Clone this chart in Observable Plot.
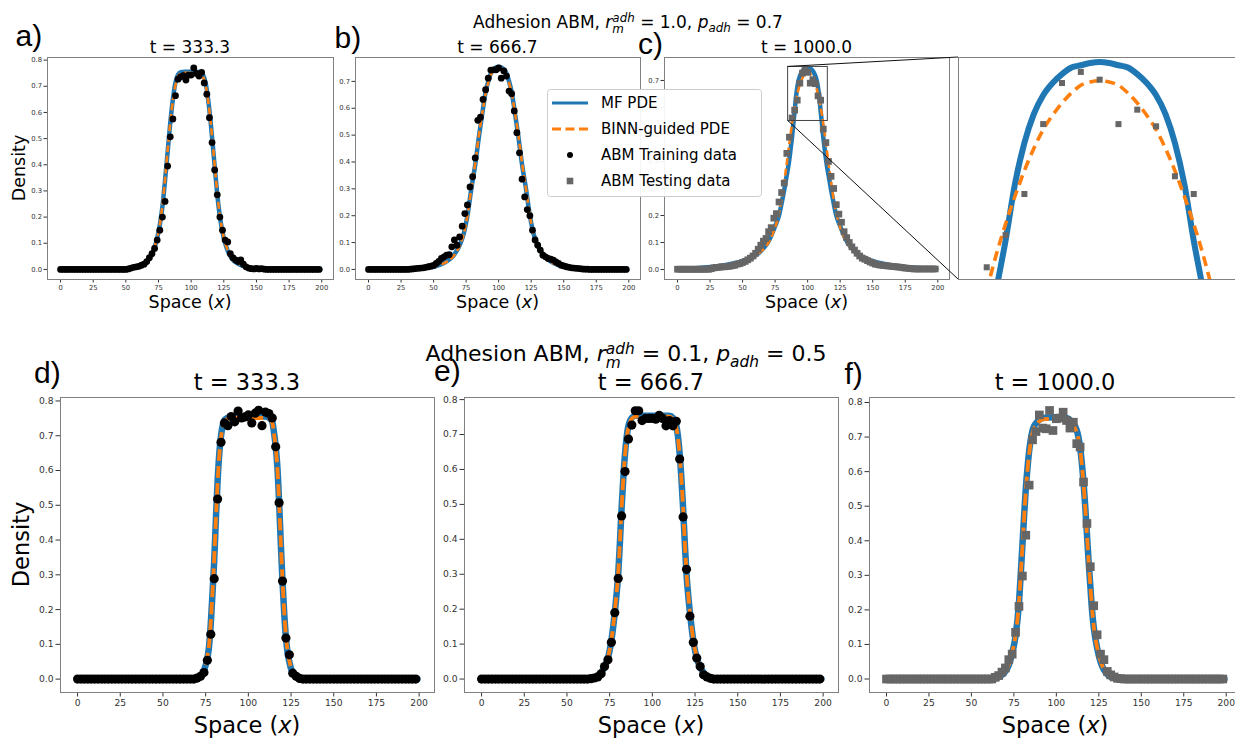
<!DOCTYPE html>
<html><head><meta charset="utf-8">
<script src="https://cdn.jsdelivr.net/npm/d3@7"></script>
<script src="https://cdn.jsdelivr.net/npm/@observablehq/plot@0.6"></script>
<style>
html,body{margin:0;padding:0;background:#fff;}
#fig{position:relative;width:1235px;height:740px;overflow:hidden;background:#fff;font-family:"DejaVu Sans";}
.lbl{position:absolute;white-space:nowrap;line-height:1;color:#000;font-family:"DejaVu Sans";transform:translateX(-50%);}
.ss{display:inline-flex;flex-direction:column;font-size:0.7em;font-style:italic;line-height:0.93;position:relative;top:-0.5em;}
.sb{font-size:0.7em;font-style:italic;position:relative;top:0.36em;}
</style></head>
<body><div id="fig"></div>
<script>
// ---------------- DATA ----------------
const xGrid = [0,2,4,6,8,10,12,14,16,18,20,22,24,26,28,30,32,34,36,38,40,42,44,46,48,50,52,54,56,58,60,62,64,66,68,70,72,74,76,78,80,82,84,86,88,90,92,94,96,98,100,102,104,106,108,110,112,114,116,118,120,122,124,126,128,130,132,134,136,138,140,142,144,146,148,150,152,154,156,158,160,162,164,166,168,170,172,174,176,178,180,182,184,186,188,190,192,194,196,198];

const xTicks = [0,25,50,75,100,125,150,175,200];
const yTicks8 = [0,0.1,0.2,0.3,0.4,0.5,0.6,0.7,0.8];
const yTicks7 = [0,0.1,0.2,0.3,0.4,0.5,0.6,0.7];
const timeLabels = ["t = 333.3","t = 666.7","t = 1000.0"];
const panelLetters = ["a)","b)","c)","d)","e)","f)"];
const legendLabels = ["MF PDE","BINN-guided PDE","ABM Training data","ABM Testing data"];
const titleParams = [["1.0","0.7"],["0.1","0.5"]];
const insetX = [85,115.5];
const insetY = [0.55,0.75];

// ABM data (top row: r=1.0, p=0.7)
const trainA = [0,0,0,0,0,0,0,0,0,0, 0,0,0,0,0,0,0,0,0,0,
 0,0,0,0,0,0,0.002,0.005,0.008,0.01,
 0.012,0.016,0.02,0.03,0.045,0.06,0.08,0.112,0.15,0.2,
 0.26,0.395,0.507,0.575,0.664,0.727,0.736,0.741,0.724,0.743,
 0.743,0.77,0.749,0.739,0.753,0.713,0.67,0.58,0.485,0.38,
 0.285,0.2,0.15,0.112,0.105,0.06,0.045,0.036,0.03,0.036,
 0.02,0.01,0.005,0.003,0.002,0.004,0.002,0.003,0.001,0,
 0,0,0,0,0,0,0,0,0,0, 0,0,0,0,0,0,0,0,0,0];
const trainB = [0,0,0,0,0,0,0,0,0,0,
 0,0,0,0,0,0,0.001,0.002,0.003,0.004,
 0.005,0.006,0.008,0.01,0.012,0.015,0.022,0.03,0.041,0.047,
 0.053,0.055,0.084,0.11,0.09,0.121,0.161,0.208,0.24,0.307,
 0.345,0.415,0.555,0.567,0.633,0.669,0.712,0.742,0.743,0.743,
 0.75,0.712,0.739,0.72,0.664,0.654,0.59,0.509,0.434,0.336,
 0.27,0.223,0.2,0.146,0.11,0.09,0.072,0.053,0.047,0.041,
 0.038,0.035,0.028,0.022,0.016,0.013,0.01,0.008,0.006,0.005,
 0.004,0.003,0.002,0.001,0.001,0,0,0,0,0,
 0,0,0,0,0,0,0,0,0,0];
const testC = [0.001,0.001,0.001,0.001,0.001,0.001,0.001,0.001,0.001,0.001,
 0.001,0.001,0.001,0.003,0.006,0.008,0.008,0.01,0.01,0.011,
 0.012,0.014,0.016,0.02,0.022,0.026,0.03,0.036,0.042,0.05,
 0.06,0.075,0.09,0.105,0.115,0.14,0.155,0.19,0.207,0.25,
 0.285,0.32,0.43,0.49,0.561,0.59,0.627,0.69,0.727,0.737,
 0.73,0.69,0.703,0.688,0.643,0.627,0.52,0.47,0.4,0.345,
 0.3,0.24,0.205,0.175,0.14,0.118,0.1,0.084,0.072,0.06,
 0.05,0.042,0.038,0.033,0.028,0.024,0.02,0.018,0.016,0.015,
 0.014,0.013,0.012,0.011,0.01,0.009,0.008,0.006,0.005,0.004,
 0.003,0.002,0.002,0.002,0.002,0.002,0.002,0.002,0.002,0.002];

// ABM data (bottom row: r=0.1, p=0.5)
const trainD = [0,0,0,0,0,0,0,0,0,0, 0,0,0,0,0,0,0,0,0,0, 0,0,0,0,0,0,0,0,0,0,
 0,0,0,0,0,0.003,0.008,0.019,0.054,0.129,
 0.289,0.518,0.681,0.737,0.729,0.755,0.74,0.771,0.751,0.754,
 0.76,0.737,0.765,0.773,0.729,0.768,0.764,0.751,0.668,0.507,
 0.282,0.118,0.07,0.017,0.008,0.002,0,0,0,0,
 0,0,0,0,0,0,0,0,0,0, 0,0,0,0,0,0,0,0,0,0, 0,0,0,0,0,0,0,0,0,0];
const trainE = [0,0,0,0,0,0,0,0,0,0, 0,0,0,0,0,0,0,0,0,0, 0,0,0,0,0,0,0,0,0,0,
 0,0,0.001,0.003,0.006,0.015,0.036,0.055,0.105,0.19,
 0.288,0.467,0.594,0.687,0.727,0.768,0.768,0.74,0.746,0.746,
 0.746,0.744,0.755,0.746,0.725,0.74,0.725,0.738,0.63,0.464,
 0.314,0.18,0.105,0.06,0.036,0.012,0.006,0.002,0,0,
 0,0,0,0,0,0,0,0,0,0, 0,0,0,0,0,0,0,0,0,0, 0,0,0,0,0,0,0,0,0,0];
const testF = [0,0,0,0,0,0,0,0,0,0, 0,0,0,0,0,0,0,0,0,0, 0,0,0,0,0,0,0,0,0,0,
 0,0,0.005,0.01,0.02,0.032,0.056,0.072,0.135,0.21,
 0.298,0.416,0.561,0.692,0.716,0.764,0.726,0.724,0.777,0.719,
 0.753,0.755,0.772,0.748,0.726,0.743,0.681,0.671,0.57,0.45,
 0.325,0.212,0.128,0.072,0.056,0.022,0.012,0.006,0.002,0.001,
 0,0,0,0,0,0,0,0,0,0, 0,0,0,0,0,0,0,0,0,0, 0,0,0,0,0,0,0,0,0,0];

// PDE curves [x, density]
const mfA = [[0,0],[40,0.001],[50,0.004],[55,0.008],[60,0.014],[65,0.028],[68,0.043],[70,0.06],[72,0.085],[74,0.12],[76,0.17],[78,0.24],[80,0.34],[82,0.45],[84,0.56],[86,0.65],[88,0.715],[90,0.745],[92,0.754],[95,0.756],[104,0.756],[107,0.754],[109,0.745],[111,0.715],[113,0.65],[115,0.56],[117,0.45],[119,0.34],[121,0.24],[123,0.17],[125,0.12],[127,0.085],[129,0.06],[131,0.043],[134,0.028],[139,0.014],[144,0.008],[149,0.004],[159,0.001],[199,0]];
const binnA = [[0,0],[40,0.001],[50,0.004],[55,0.009],[60,0.016],[65,0.03],[68,0.045],[70,0.062],[72,0.087],[74,0.122],[76,0.172],[78,0.245],[80,0.345],[82,0.455],[84,0.56],[86,0.645],[88,0.705],[90,0.738],[92,0.749],[95,0.752],[104,0.752],[107,0.749],[109,0.738],[111,0.705],[113,0.645],[115,0.56],[117,0.455],[119,0.345],[121,0.245],[123,0.172],[125,0.122],[127,0.087],[129,0.062],[131,0.045],[134,0.03],[139,0.016],[144,0.009],[149,0.004],[159,0.001],[199,0]];
const mfB = [[0,0],[30,0.001],[40,0.004],[50,0.01],[55,0.018],[60,0.03],[65,0.05],[70,0.09],[73,0.13],[76,0.2],[79,0.3],[82,0.39],[85,0.5],[88,0.6],[90,0.66],[92,0.7],[94,0.73],[96,0.745],[100,0.755],[104,0.745],[106,0.73],[108,0.7],[110,0.66],[112,0.6],[115,0.5],[118,0.39],[121,0.3],[124,0.2],[127,0.13],[130,0.09],[135,0.05],[140,0.03],[145,0.018],[150,0.01],[160,0.004],[170,0.001],[199,0]];
const binnB = [[0,0],[30,0.001],[40,0.004],[50,0.01],[55,0.017],[60,0.028],[65,0.048],[70,0.088],[73,0.13],[76,0.2],[79,0.3],[82,0.395],[85,0.505],[88,0.6],[90,0.655],[92,0.695],[94,0.725],[96,0.742],[100,0.752],[104,0.742],[106,0.725],[108,0.695],[110,0.655],[112,0.6],[115,0.505],[118,0.395],[121,0.3],[124,0.2],[127,0.13],[130,0.088],[135,0.048],[140,0.028],[145,0.017],[150,0.01],[160,0.004],[170,0.001],[199,0]];
const mfC = [[0,0.002],[10,0.004],[20,0.007],[30,0.012],[40,0.02],[50,0.031],[55,0.04],[60,0.052],[64,0.068],[68,0.09],[70,0.105],[72,0.125],[75,0.16],[78,0.2],[80,0.245],[82,0.295],[84,0.35],[86,0.41],[87,0.45],[88,0.49],[89,0.54],[90,0.585],[91,0.636],[92,0.673],[93,0.699],[94,0.716],[95,0.727],[96,0.735],[97,0.741],[98,0.743],[99,0.745],[100,0.746],[101,0.745],[102,0.743],[103,0.741],[104,0.735],[105,0.727],[106,0.716],[107,0.699],[108,0.673],[109,0.636],[110,0.585],[111,0.54],[112,0.49],[113,0.45],[114,0.41],[116,0.35],[118,0.295],[120,0.245],[122,0.2],[125,0.16],[128,0.125],[130,0.105],[132,0.09],[136,0.068],[140,0.052],[145,0.04],[150,0.031],[160,0.02],[170,0.012],[180,0.007],[190,0.004],[199,0.002]];
const binnC = [[0,0.002],[10,0.004],[20,0.007],[30,0.012],[40,0.019],[50,0.03],[55,0.038],[60,0.05],[64,0.066],[68,0.087],[70,0.1],[72,0.12],[75,0.155],[78,0.21],[80,0.26],[82,0.325],[84,0.395],[86,0.47],[87,0.505],[88,0.54],[89,0.572],[90,0.6],[91,0.625],[92,0.648],[93,0.668],[94,0.685],[95,0.698],[96,0.709],[97,0.718],[98,0.725],[99,0.728],[100,0.729],[101,0.728],[102,0.725],[103,0.718],[104,0.709],[105,0.698],[106,0.685],[107,0.668],[108,0.648],[109,0.625],[110,0.6],[111,0.572],[112,0.54],[113,0.505],[114,0.47],[116,0.395],[118,0.325],[120,0.26],[122,0.21],[125,0.155],[128,0.12],[130,0.1],[132,0.087],[136,0.066],[140,0.05],[145,0.038],[150,0.03],[160,0.019],[170,0.012],[180,0.007],[190,0.004],[199,0.002]];
const mfD = [[0,0],[60,0],[66,0.001],[70,0.003],[72,0.008],[73,0.015],[74,0.025],[75,0.04],[76,0.06],[77,0.095],[78,0.16],[79,0.245],[80,0.34],[81,0.46],[82,0.57],[83,0.65],[84,0.7],[85,0.73],[86,0.745],[88,0.752],[90,0.755],[110,0.755],[112,0.752],[114,0.74],[115,0.71],[116,0.67],[117,0.61],[118,0.51],[119,0.39],[120,0.28],[121,0.19],[122,0.12],[123,0.075],[124,0.05],[125,0.03],[126,0.018],[128,0.007],[130,0.003],[134,0.001],[140,0],[199,0]];
const binnD = [[0,0],[60,0],[66,0.001],[70,0.004],[72,0.009],[73,0.016],[74,0.027],[75,0.043],[76,0.066],[77,0.1],[78,0.165],[79,0.25],[80,0.345],[81,0.46],[82,0.565],[83,0.645],[84,0.695],[85,0.725],[86,0.74],[88,0.749],[90,0.751],[110,0.751],[112,0.749],[114,0.737],[115,0.707],[116,0.667],[117,0.607],[118,0.51],[119,0.395],[120,0.285],[121,0.195],[122,0.125],[123,0.08],[124,0.053],[125,0.033],[126,0.02],[128,0.008],[130,0.003],[134,0.001],[140,0],[199,0]];
const mfE = [[0,0],[60,0],[64,0.002],[66,0.004],[68,0.008],[70,0.018],[72,0.035],[74,0.06],[76,0.11],[78,0.19],[79,0.24],[80,0.3],[81,0.39],[82,0.49],[83,0.575],[84,0.645],[85,0.695],[86,0.725],[87,0.74],[88,0.748],[90,0.754],[110,0.754],[112,0.748],[113,0.74],[114,0.725],[115,0.695],[116,0.645],[117,0.575],[118,0.49],[119,0.39],[120,0.3],[121,0.24],[122,0.19],[124,0.11],[126,0.06],[128,0.035],[130,0.018],[132,0.008],[134,0.004],[136,0.002],[140,0],[199,0]];
const binnE = [[0,0],[60,0],[64,0.002],[66,0.004],[68,0.009],[70,0.019],[72,0.036],[74,0.062],[76,0.112],[78,0.192],[79,0.243],[80,0.303],[81,0.392],[82,0.49],[83,0.573],[84,0.642],[85,0.69],[86,0.72],[87,0.736],[88,0.745],[90,0.751],[110,0.751],[112,0.745],[113,0.736],[114,0.72],[115,0.69],[116,0.642],[117,0.573],[118,0.49],[119,0.392],[120,0.303],[121,0.243],[122,0.192],[124,0.112],[126,0.062],[128,0.036],[130,0.019],[132,0.009],[134,0.004],[136,0.002],[140,0],[199,0]];
const mfF = [[0,0],[58,0],[62,0.001],[64,0.002],[66,0.005],[68,0.012],[70,0.022],[72,0.04],[74,0.075],[76,0.125],[78,0.22],[79,0.3],[80,0.385],[81,0.47],[82,0.55],[83,0.61],[84,0.66],[85,0.695],[86,0.72],[88,0.74],[90,0.75],[92,0.755],[99,0.757],[106,0.755],[108,0.75],[110,0.74],[112,0.72],[113,0.7],[114,0.67],[115,0.625],[116,0.57],[117,0.5],[118,0.42],[119,0.34],[120,0.27],[121,0.2],[122,0.15],[124,0.09],[126,0.05],[128,0.027],[130,0.014],[132,0.006],[134,0.003],[136,0.0015],[140,0],[199,0]];
const binnF = [[0,0],[58,0],[62,0.001],[64,0.002],[66,0.005],[68,0.012],[70,0.023],[72,0.041],[74,0.076],[76,0.127],[78,0.222],[79,0.3],[80,0.382],[81,0.465],[82,0.543],[83,0.603],[84,0.652],[85,0.688],[86,0.713],[88,0.735],[90,0.746],[92,0.751],[99,0.753],[106,0.751],[108,0.746],[110,0.735],[112,0.713],[113,0.695],[114,0.665],[115,0.62],[116,0.565],[117,0.497],[118,0.42],[119,0.342],[120,0.272],[121,0.205],[122,0.153],[124,0.092],[126,0.052],[128,0.028],[130,0.014],[132,0.006],[134,0.003],[136,0.0015],[140,0],[199,0]];

// ---------------- DRAWING ----------------
const BLUE = "#1f77b4", ORANGE = "#ff7f0e", GRAY = "#666666";
const fig = document.getElementById("fig");
const plots = {};
const XD = [-10, 209];

function panel(key, o) {
  const mL = 40, mR = 4, mT = 4, mB = 26;
  const pts = o.pts ? xGrid.map((x, i) => ({x, y: o.pts[i]})) : [];
  const marks = [];
  if (o.axes) {
    marks.push(Plot.axisX({anchor: "bottom", ticks: xTicks, tickSize: o.ts, tickPadding: o.tp, fontSize: o.fs, tickFormat: d => String(d), label: null}));
    marks.push(Plot.axisY({anchor: "left", ticks: o.yTicks, tickSize: o.ts, tickPadding: o.tp, fontSize: o.fs, tickFormat: d => d.toFixed(1), label: null}));
  }
  marks.push(Plot.line(o.mf, {x: d => d[0], y: d => d[1], stroke: BLUE, strokeWidth: o.lw, curve: "monotone-x", clip: true}));
  marks.push(Plot.line(o.binn, {x: d => d[0], y: d => d[1], stroke: ORANGE, strokeWidth: o.dw, strokeDasharray: o.dash, strokeLinecap: "butt", curve: "monotone-x", clip: true}));
  marks.push(Plot.dot(pts, {x: "x", y: "y", r: o.r, fill: o.testing ? GRAY : "black", stroke: "none", symbol: o.testing ? "square" : "circle", clip: true}));
  if (o.extra) marks.push(...o.extra);
  marks.push(Plot.frame({stroke: "#808080", strokeWidth: 1}));
  const xs = {domain: o.xd || XD}, ys = {domain: o.yd};
  if (!o.axes) { xs.axis = null; ys.axis = null; }
  const chart = Plot.plot({
    width: mL + o.W + mR, height: mT + o.H + mB,
    marginLeft: mL, marginRight: mR, marginTop: mT, marginBottom: mB,
    x: xs, y: ys,
    style: {background: "transparent", fontFamily: "DejaVu Sans", fontSize: o.fs + "px", color: "#333", overflow: "visible", maxWidth: "none"},
    marks
  });
  chart.style.position = "absolute";
  chart.style.left = (o.L - mL) + "px";
  chart.style.top = (o.T - mT) + "px";
  fig.appendChild(chart);
  plots[key] = {chart, ox: o.L - mL, oy: o.T - mT};
}

const TOPROW = {T: 57, H: 222, axes: true, ts: 3.5, tp: 2, fs: 6.8, lw: 4.5, dw: 2.6, dash: "7,3.5", r: 3.4};
const BOTROW = {T: 397, H: 295, axes: true, ts: 4.5, tp: 2.5, fs: 9.2, lw: 6.5, dw: 3.8, dash: "12,5", r: 4.6};

panel("a", {...TOPROW, L: 47, W: 286, yd: [-0.0385, 0.81], yTicks: yTicks8, mf: mfA, binn: binnA, pts: trainA});
panel("b", {...TOPROW, L: 355, W: 285, yd: [-0.0375, 0.789], yTicks: yTicks7, mf: mfB, binn: binnB, pts: trainB});
panel("c", {...TOPROW, L: 664, W: 285, yd: [-0.037, 0.785], yTicks: yTicks7, mf: mfC, binn: binnC, pts: testC, testing: true, r: 3.8,
  extra: [Plot.rect([0], {x1: () => insetX[0], x2: () => insetX[1], y1: () => insetY[0], y2: () => insetY[1], fill: "none", stroke: "#444", strokeWidth: 1})]});
panel("inset", {T: 57, H: 222, L: 958, W: 287, axes: false, xd: insetX, yd: insetY, mf: mfC, binn: binnC, pts: testC, testing: true, r: 3.4, lw: 6, dw: 3.6, dash: "10,6", fs: 7});
panel("d", {...BOTROW, L: 60, W: 374, yd: [-0.0385, 0.81], yTicks: yTicks8, mf: mfD, binn: binnD, pts: trainD});
panel("e", {...BOTROW, L: 464, W: 374, yd: [-0.0385, 0.806], yTicks: yTicks8, mf: mfE, binn: binnE, pts: trainE});
panel("f", {...BOTROW, L: 869, W: 372, yd: [-0.039, 0.8145], yTicks: yTicks8, mf: mfF, binn: binnF, pts: testF, testing: true, r: 4.9});

// overlay: connectors, legend, texts
const ov = d3.select(fig).append("svg")
  .attr("width", 1235).attr("height", 740)
  .style("position", "absolute").style("left", "0px").style("top", "0px")
  .style("font-family", "DejaVu Sans");

{
  const C = plots.c, I = plots.inset;
  const cxs = C.chart.scale("x"), cys = C.chart.scale("y");
  const ixs = I.chart.scale("x"), iys = I.chart.scale("y");
  const cx = C.ox + cxs.apply(insetX[0]);
  const ix = I.ox + ixs.apply(insetX[0]);
  [insetY[1], insetY[0]].forEach(v => {
    ov.append("line")
      .attr("x1", cx).attr("y1", C.oy + cys.apply(v))
      .attr("x2", ix).attr("y2", I.oy + iys.apply(v))
      .attr("stroke", "#111").attr("stroke-width", 1);
  });
}

// legend
{
  const g = ov.append("g");
  g.append("rect").attr("x", 547.5).attr("y", 89.5).attr("width", 214).attr("height", 107).attr("rx", 3)
    .attr("fill", "white").attr("fill-opacity", 0.92).attr("stroke", "#cccccc");
  const rowsY = [103, 129, 155, 181];
  legendLabels.forEach((lab, i) => {
    const y = rowsY[i];
    if (i === 0) g.append("line").attr("x1", 552).attr("x2", 588).attr("y1", y).attr("y2", y).attr("stroke", BLUE).attr("stroke-width", 2.8);
    if (i === 1) g.append("line").attr("x1", 552).attr("x2", 588).attr("y1", y).attr("y2", y).attr("stroke", ORANGE).attr("stroke-width", 2.8).attr("stroke-dasharray", "9,4.5");
    if (i === 2) g.append("circle").attr("cx", 570).attr("cy", y).attr("r", 3).attr("fill", "black");
    if (i === 3) g.append("rect").attr("x", 566.7).attr("y", y - 3.3).attr("width", 6.6).attr("height", 6.6).attr("fill", GRAY);
    g.append("text").attr("x", 601).attr("y", y + 5.4).attr("font-size", 15).attr("fill", "#000").text(lab);
  });
}

function svgText(x, y, s, size, opts = {}) {
  const t = ov.append("text").attr("x", x).attr("y", y).attr("font-size", size)
    .attr("text-anchor", opts.anchor || "middle").attr("fill", "#000")
    .attr("font-family", opts.family || "DejaVu Sans");
  if (opts.rotate) t.attr("transform", `rotate(-90,${x},${y})`);
  if (opts.italicX) {
    t.append("tspan").text("Space (");
    t.append("tspan").attr("font-style", "italic").text("x");
    t.append("tspan").text(")");
  } else t.text(s);
  return t;
}

// time labels
[[190, 53, 17], [497.5, 53, 17], [806.5, 53, 17]].forEach((p, i) => svgText(p[0], p[1], timeLabels[i], p[2]));
[[247, 390, 22.5], [651, 390, 22.5], [1055, 390, 22.5]].forEach((p, i) => svgText(p[0], p[1], timeLabels[i], p[2]));
// x labels
[190, 497.5, 806.5].forEach(x => svgText(x, 308, "", 17.5, {italicX: true}));
[247, 651, 1055].forEach(x => svgText(x, 733, "", 22.5, {italicX: true}));
// y labels
svgText(25, 168, "Density", 17.5, {rotate: true});
svgText(29, 544.5, "Density", 22.5, {rotate: true});
// panel letters
[[15.5, 46], [334.5, 48], [638, 54], [34, 383], [434, 381], [844.5, 384]].forEach((p, i) =>
  svgText(p[0], p[1], panelLetters[i], 30, {anchor: "start", family: "Liberation Sans"}));

// titles (HTML for stacked sub/superscripts)
[[628, 28, 17], [626, 362, 22]].forEach((p, i) => {
  const [r, pv] = titleParams[i];
  const d = document.createElement("div");
  d.className = "lbl";
  d.style.left = p[0] + "px";
  d.style.top = (p[1] - 0.846 * p[2]) + "px";
  d.style.fontSize = p[2] + "px";
  d.innerHTML = `Adhesion ABM, <i>r</i><span class="ss"><span>adh</span><span>m</span></span> = ${r}, <i>p</i><span class="sb">adh</span> = ${pv}`;
  fig.appendChild(d);
});
</script>
</body></html>
